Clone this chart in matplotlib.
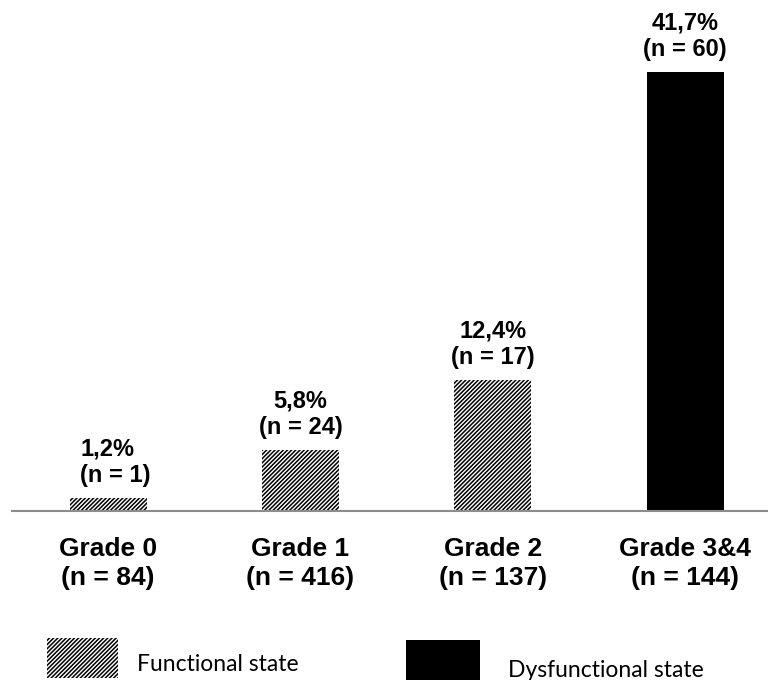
import matplotlib
matplotlib.use("Agg")
import matplotlib.pyplot as plt
from matplotlib.patches import Rectangle

# Data
grades = ["Grade 0", "Grade 1", "Grade 2", "Grade 3&4"]
grade_n = [84, 416, 137, 144]
percent = [1.2, 5.8, 12.4, 41.7]
event_n = [1, 24, 17, 60]
dysfunctional = [False, False, False, True]
legend_labels = ["Functional state", "Dysfunctional state"]

plt.rcParams["hatch.linewidth"] = 1.1
bold_font = ["Liberation Sans", "DejaVu Sans"]
legend_font = ["Lato", "DejaVu Sans"]
HATCH = "////////"

W, H, DPI = 768, 680, 100
fig = plt.figure(figsize=(W / DPI, H / DPI), dpi=DPI)

ax = fig.add_axes([12 / W, (H - 511) / H, (W - 12) / W, 511 / H])
x = list(range(len(grades)))
for xi, val, dys in zip(x, percent, dysfunctional):
    if dys:
        ax.bar(xi, val, width=0.4, color="black", edgecolor="black", linewidth=0)
    else:
        ax.bar(xi, val, width=0.4, color="white", edgecolor="black",
               hatch=HATCH, linewidth=0)

ax.set_xlim(-0.5, 3.43)
ax.set_ylim(0, 48.53)

for i, (xi, val, n) in enumerate(zip(x, percent, event_n)):
    pct = f"{val:.1f}".replace(".", ",") + "%"
    label = f"{pct}\n(n = {n})"
    if i == 0:
        ax.annotate(label, xy=(xi, val), xytext=(-20, 8), textcoords="offset points",
                    ha="left", va="bottom", multialignment="left",
                    fontsize=17, fontweight="bold", family=bold_font, linespacing=1.2)
    else:
        ax.annotate(label, xy=(xi, val), xytext=(0, 8), textcoords="offset points",
                    ha="center", va="bottom", multialignment="center",
                    fontsize=17, fontweight="bold", family=bold_font, linespacing=1.2)

ax.set_xticks(x)
ax.set_xticklabels([f"{g}\n(n = {n})" for g, n in zip(grades, grade_n)],
                   fontsize=19, fontweight="bold", family=bold_font, linespacing=1.25)
ax.tick_params(axis="x", length=0, pad=19)
ax.set_yticks([])
for side in ["top", "right", "left"]:
    ax.spines[side].set_visible(False)
ax.spines["bottom"].set_color("#8c8c8c")
ax.spines["bottom"].set_linewidth(1.5)

# Legend swatches and labels in pixel space
lg = fig.add_axes([0, 0, 1, 1], zorder=-1)
lg.set_xlim(0, W)
lg.set_ylim(H, 0)
lg.axis("off")
lg.add_patch(Rectangle((47, 638), 71, 40, facecolor="white", edgecolor="black",
                       hatch=HATCH, linewidth=0))
lg.add_patch(Rectangle((406, 640), 74, 44, facecolor="black", edgecolor="black",
                       linewidth=0))
lg.text(137, 671, legend_labels[0], fontsize=16.5, family=legend_font,
        va="baseline", ha="left")
lg.text(508, 677, legend_labels[1], fontsize=16.5, family=legend_font,
        va="baseline", ha="left")

fig.savefig("out.png", dpi=DPI)
